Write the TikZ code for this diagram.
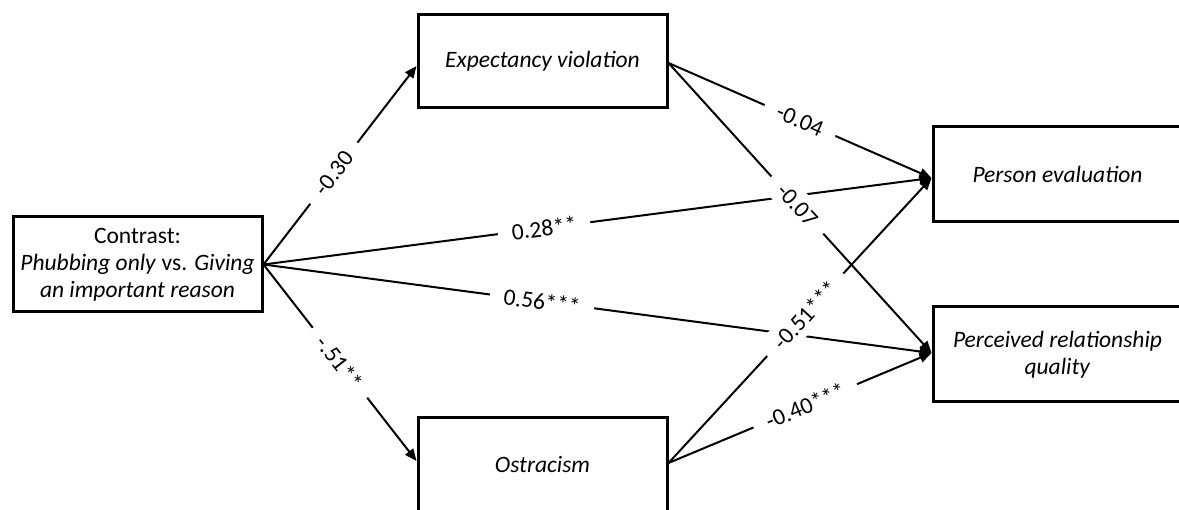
\documentclass[tikz,border=0pt]{standalone}
\usepackage{fontspec}
\setmainfont{Carlito}
\usetikzlibrary{arrows.meta}
\tikzset{
  box/.style={draw=black, line width=3pt, minimum width=249pt, inner sep=2pt, align=center, font=\fontsize{23.5}{27}\selectfont},
  arr/.style={line width=2pt, -{Triangle[length=12pt,width=10pt]}},
  lbl/.style={fill=white, sloped, inner xsep=14pt, inner ysep=7pt, font=\fontsize{23.5}{27}\selectfont}
}
\begin{document}
\begin{tikzpicture}[x=1pt,y=1pt]
\useasboundingbox (0,0) rectangle (1179,510);
\node[box, minimum height=95pt] (ctr) at (137.5,245.5) {Contrast:\\\textit{Phubbing only} vs. \textit{Giving}\\\textit{an important reason}};
\node[box, minimum height=93pt] (exp) at (542.5,448.5) {\textit{Expectancy violation}};
\node[box, minimum height=94pt] (ost) at (542.5,45) {\textit{Ostracism}};
\node[box, minimum height=95pt] (per) at (1057.5,335.5) {\textit{Person evaluation}};
\node[box, minimum height=95pt] (rel) at (1057.5,155.5) {\textit{Perceived relationship}\\\textit{quality}};
\coordinate (cO) at (ctr.east);
\coordinate (eI) at ([yshift=-4.5pt]exp.west);
\coordinate (eO) at ([yshift=-1.5pt]exp.east);
\coordinate (oI) at ([yshift=4pt]ost.west);
\coordinate (oO) at ([yshift=2pt]ost.east);
\coordinate (pI) at ([yshift=-3.5pt]per.west);
\coordinate (rI) at ([yshift=1.5pt]rel.west);
\draw[arr] (cO) -- (eI);
\draw[arr] (cO) -- (oI);
\draw[arr] (cO) -- (pI);
\draw[arr] (cO) -- (rI);
\draw[arr] (eO) -- (pI);
\draw[arr] (eO) -- (rI);
\draw[arr] (oO) -- (pI);
\draw[arr] (oO) -- (rI);
\path (cO) -- (eI) node[lbl, pos=0.46] {-0.30};
\path (cO) -- (oI) node[lbl, pos=0.5] {-.51**};
\path (cO) -- (pI) node[lbl, pos=0.42] {0.28**};
\path (cO) -- (rI) node[lbl, pos=0.417] {0.56***};
\path (eO) -- (pI) node[lbl, pos=0.5] {-0.04};
\path (eO) -- (rI) node[lbl, pos=0.49] {-0.07};
\path (oO) -- (pI) node[lbl, pos=0.52] {-0.51***};
\path (oO) -- (rI) node[lbl, pos=0.52] {-0.40***};
\end{tikzpicture}
\end{document}
